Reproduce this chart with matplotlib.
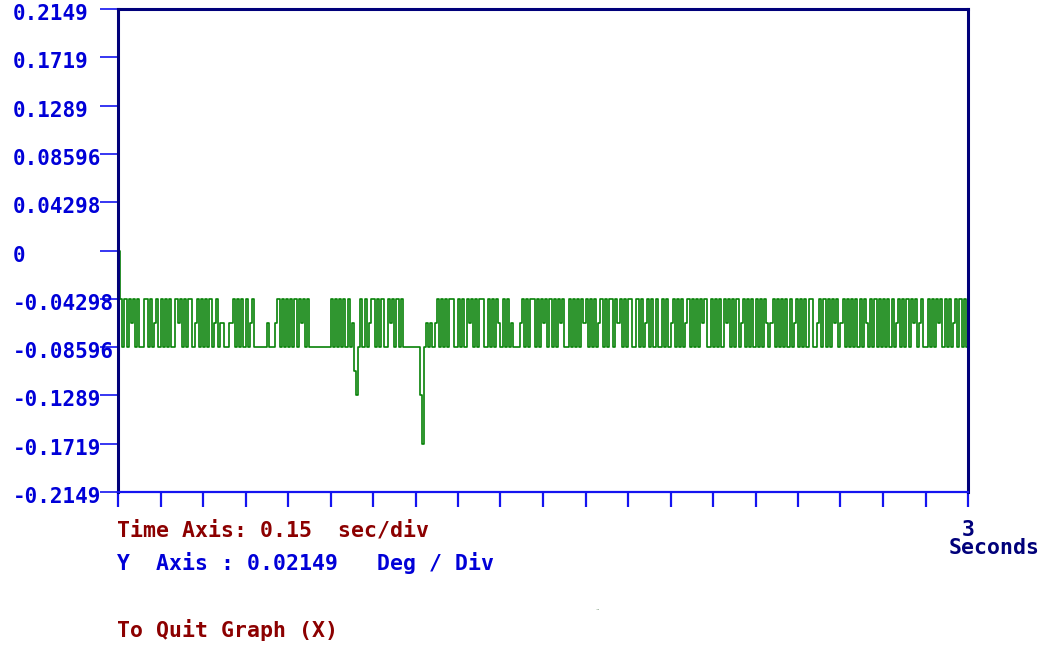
import numpy as np
import matplotlib
matplotlib.use("Agg")
import matplotlib.pyplot as plt
from matplotlib.transforms import ScaledTranslation

# sampled attitude signal, one char per 0.0075 s step (20 chars = one 0.15 s div)
# 2 = -0.04298, 1 = -0.0645, 0 = -0.08596, z = 0, a/b/c = dips
segments = [
    "z2020212020022020120", "20202002120202201202", "02020120110011202020",
    "20120000001000120202", "02020212020000000000", "20202020201ab0202012",
    "20202002120202000000", "00bc0101012020202200", "20202120202200202021",
    "02020100012020220202", "12020202120020202021", "20202012020220212020",
    "22002020120202002020", "12020201202020212002", "02020212020201202020",
    "20202101202020202012", "02020220012020202120", "12020202020210202020",
    "20202012020202120120", "02020212020201202020",
]
level_values = {"z": 0.0, "2": -0.04298, "1": -0.0645, "0": -0.08596,
                "a": -0.107, "b": -0.1289, "c": -0.1719}
dt = 0.0075

y_ticks = [0.2149, 0.1719, 0.1289, 0.08596, 0.04298, 0.0,
           -0.04298, -0.08596, -0.1289, -0.1719, -0.2149]
y_labels = ["0.2149", "0.1719", "0.1289", "0.08596", "0.04298", "0",
            "-0.04298", "-0.08596", "-0.1289", "-0.1719", "-0.2149"]
x_ticks = [i * 0.15 for i in range(21)]

codes = "".join(segments)
vals = [level_values[c] for c in codes]
vals.append(vals[-1])
t = np.arange(len(vals)) * dt

W, H = 1046, 645
fig = plt.figure(figsize=(W / 100, H / 100), dpi=100)
ax = fig.add_axes([118 / W, 1 - 492 / H, 850 / W, 483 / H])

ax.plot(t, vals, drawstyle="steps-post", color="#078207", lw=1.2)

ax.set_xlim(0, 3)
ax.set_ylim(-0.2149, 0.2149)

navy = "#00007a"
blue = "#1414f0"
for s in ["left", "top", "right"]:
    ax.spines[s].set_color(navy)
    ax.spines[s].set_linewidth(2.2)
ax.spines["bottom"].set_color(blue)
ax.spines["bottom"].set_linewidth(1.6)

ax.set_xticks(x_ticks)
ax.set_xticklabels([])
ax.tick_params(axis="x", direction="out", length=11, width=1.6, color=blue)

ax.set_yticks(y_ticks)
ax.set_yticklabels(y_labels, fontfamily="DejaVu Sans Mono", fontweight="bold",
                   fontsize=15, color="#0000d8", ha="left")
ax.tick_params(axis="y", direction="out", length=13, width=1.2, color=blue, pad=63)
# labels sit a little below their ticks in the original
shift = ScaledTranslation(0, -3 / 100, fig.dpi_scale_trans)
for lab in ax.get_yticklabels():
    lab.set_transform(lab.get_transform() + shift)

mono = dict(fontfamily="DejaVu Sans Mono", fontweight="bold", fontsize=15.5)
fig.text(117 / W, 1 - 530 / H, "Time Axis: 0.15  sec/div", color="#8c0000",
         va="center", ha="left", **mono)
fig.text(117 / W, 1 - 563 / H, "Y  Axis : 0.02149   Deg / Div", color="#0000d8",
         va="center", ha="left", **mono)
fig.text(117 / W, 1 - 630 / H, "To Quit Graph (X)", color="#8c0000",
         va="center", ha="left", **mono)
fig.text(994 / W, 1 - 539 / H, "3    \nSeconds", color=navy, va="center",
         ha="center", multialignment="center", linespacing=0.85, **mono)
fig.text(598 / W, 1 - 610 / H, "..", color="#7a9a7a", fontsize=5, ha="center")

fig.savefig("out.png", dpi=100)
